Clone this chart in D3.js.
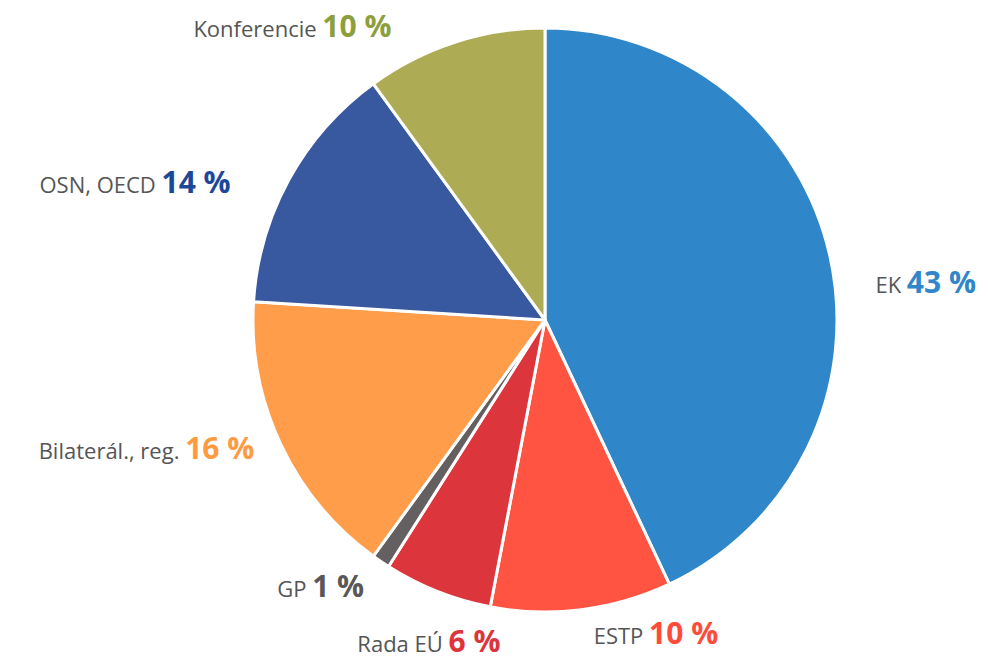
<!DOCTYPE html>
<html>
<head>
<meta charset="utf-8">
<script src="https://cdn.jsdelivr.net/npm/d3@7"></script>
<style>
  body { margin: 0; background: #fff; }
  text { font-family: "Open Sans", "Noto Sans", sans-serif; }
</style>
</head>
<body>
<svg id="chart" width="988" height="660"></svg>
<script>
const width = 988;
const height = 660;
const radius = 292;
const center = [545, 320];

const categories = ["EK", "ESTP", "Rada EÚ", "GP", "Bilaterál., reg.", "OSN, OECD", "Konferencie"];
const shares = [43, 10, 6, 1, 16, 14, 10];
const sliceColors = ["#2f86c9", "#ff5442", "#dc363c", "#646061", "#ff9d4a", "#3858a0", "#adac55"];
const valueColors = ["#2f86c9", "#ff4b3a", "#dc363c", "#5a5758", "#ff9a40", "#1d4899", "#8d9e3c"];
// label placement tweaks: extra radius and angle shift (degrees)
const labelPad = [40, 30, 54, 34, 28, 49, 35];
const labelShift = [7, -1.5, -2, -0.5, 0.5, -6, -10];

const data = categories.map((c, i) => ({ name: c, value: shares[i], i }));

const svg = d3.select("#chart");
const g = svg.append("g").attr("transform", `translate(${center[0]}, ${center[1]})`);

const pie = d3.pie().sort(null).value(d => d.value);
const arc = d3.arc().innerRadius(0).outerRadius(radius);
const arcs = pie(data);

g.selectAll("path")
  .data(arcs).enter()
  .append("path")
  .attr("d", arc)
  .attr("fill", d => sliceColors[d.data.i])
  .attr("stroke", "#fff")
  .attr("stroke-width", 3)
  .attr("stroke-linejoin", "round");

g.selectAll("text.lbl")
  .data(arcs).enter()
  .append("text")
  .attr("class", "lbl")
  .each(function(d) {
    const i = d.data.i;
    const a = (d.startAngle + d.endAngle) / 2 + labelShift[i] * Math.PI / 180;
    const r = radius + labelPad[i];
    const x = r * Math.sin(a);
    const y = -r * Math.cos(a);
    let anchor = x > 0 ? "start" : "end";
    if (i === 2) anchor = "middle";
    const t = d3.select(this)
      .attr("x", x)
      .attr("y", y)
      .attr("dy", "0.35em")
      .attr("text-anchor", anchor);
    t.append("tspan")
      .attr("fill", "#555")
      .attr("font-size", 22)
      .text(d.data.name + " ");
    t.append("tspan")
      .attr("fill", valueColors[i])
      .attr("font-size", 30)
      .attr("font-weight", 700)
      .text(d.data.value + " %");
  });
</script>
</body>
</html>
